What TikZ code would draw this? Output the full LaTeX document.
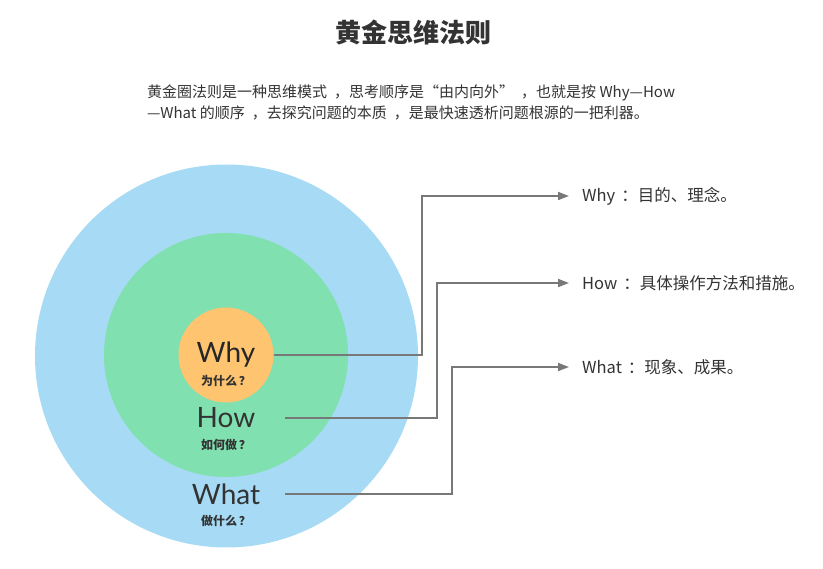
\documentclass[tikz,border=0pt]{standalone}
\usepackage{fontspec}
\setmainfont{Noto Sans CJK SC}
\newfontfamily\latinfont{Lato}
\usetikzlibrary{arrows.meta}
\definecolor{cblue}{RGB}{166,218,245}
\definecolor{cgreen}{RGB}{128,224,176}
\definecolor{corange}{RGB}{255,196,112}
\definecolor{cline}{RGB}{120,120,120}
\definecolor{ctext}{RGB}{51,51,51}
\tikzset{
  ring/.style={circle,inner sep=0pt,minimum size=#1},
  bigword/.style={inner sep=0pt,text=ctext,font=\latinfont\fontsize{28}{30}\selectfont},
  smallword/.style={inner sep=0pt,text=ctext,font=\bfseries\fontsize{12}{13}\selectfont},
  lbl/.style={anchor=west,inner sep=0pt,text=ctext,font=\fontsize{16.5}{18}\selectfont},
  para/.style={anchor=west,inner sep=0pt,text=ctext,font=\fontsize{15}{20}\selectfont},
  conn/.style={draw=cline,line width=1.7pt,-{Triangle[length=11pt,width=8pt]}}
}
\newcommand{\pc}{\hspace{7pt}}
\newcommand{\pcc}{\hspace{6pt}}
\begin{document}
\begin{tikzpicture}[x=1pt,y=-1pt]
\useasboundingbox (0,0) rectangle (823,569);
% title and paragraph
\node[inner sep=0pt,text=ctext,font=\bfseries\fontsize{26}{30}\selectfont] (title) at (413,33) {黄金思维法则};
\node[para] (p1) at (147,93) {黄金圈法则是一种思维模式\pc{}，思考顺序是“由内向外”\pc{}，也就是按 Why—How};
\node[para] (p2) at (147,113) {—What 的顺序\pc{}，去探究问题的本质\pc{}，是最快速透析问题根源的一把利器。};
% circles
\node[ring=383pt,fill=cblue] (outer) at (226.5,356) {};
\node[ring=244pt,fill=cgreen] (middle) at (226,355) {};
\node[ring=95pt,fill=corange] (inner) at (226,355) {};
% words
\node[bigword,text=black!85] (why) at (226,355) {Why};
\node[smallword] (whyc) at (226,381) {为什么\hspace{2pt}？};
\node[bigword] (how) at (226,418) {How};
\node[smallword] (howc) at (226,445) {如何做\hspace{2pt}？};
\node[bigword] (what) at (226,494) {What};
\node[smallword] (whatc) at (226,521) {做什么\hspace{2pt}？};
% labels
\node[lbl] (wl) at (582,196) {Why\pcc{}：目的、理念。};
\node[lbl] (hl) at (582,283) {How\pcc{}：具体操作方法和措施。};
\node[lbl] (tl) at (582,367) {What\pcc{}：现象、成果。};
% connectors
\coordinate (howstart) at (285,418);
\coordinate (whatstart) at (285,494);
\draw[conn] (inner.east) -- (422,355) |- ([xshift=-13pt]wl.west);
\draw[conn] (howstart) -- (437,418) |- ([xshift=-13pt]hl.west);
\draw[conn] (whatstart) -- (452,494) |- ([xshift=-13pt]tl.west);
\end{tikzpicture}
\end{document}
